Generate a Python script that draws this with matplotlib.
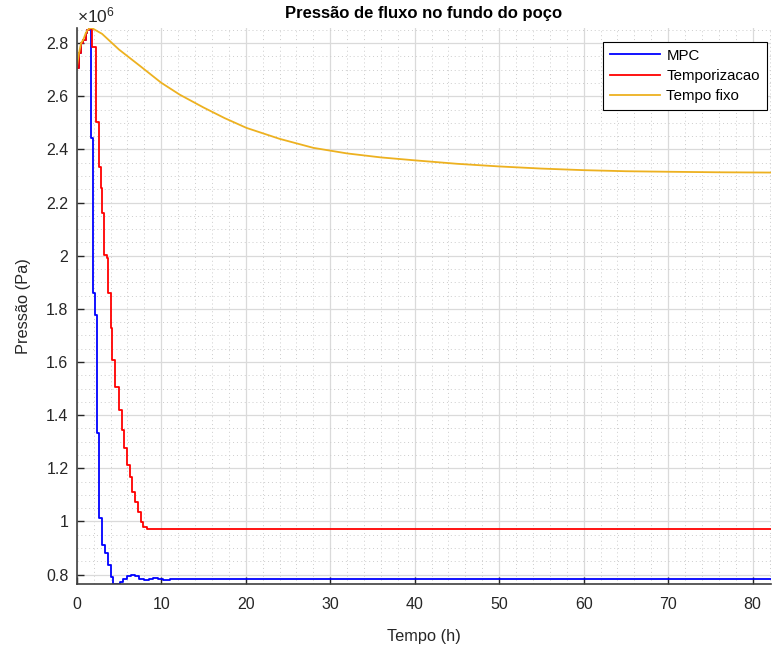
import numpy as np
import matplotlib.pyplot as plt
from matplotlib.ticker import MultipleLocator, FuncFormatter

plt.rcParams['font.family'] = ['Liberation Sans', 'DejaVu Sans']
plt.rcParams['mathtext.default'] = 'regular'

# Data (pressure in units of 1e6 Pa, time in h)
# shared start-up phase, identical for all three strategies
t_start = [0.0, 0.27, 0.51, 0.78, 1.07, 1.25, 1.49]
p_start = [2.706, 2.763, 2.800, 2.813, 2.838, 2.848, 2.855]

# MPC
t_mpc = [1.66, 1.96, 2.17, 2.37, 2.67, 3.03, 3.35, 3.67, 4.02, 4.33,
         5.13, 5.5, 5.9, 6.4, 6.9, 7.4, 8.0, 8.5, 9.0, 9.6, 10.2, 11.0, 82.3]
p_mpc = [2.442, 1.859, 1.777, 1.332, 1.012, 0.911, 0.880, 0.836, 0.792, 0.766,
         0.772, 0.785, 0.796, 0.800, 0.794, 0.784, 0.779, 0.783, 0.787, 0.784, 0.780, 0.782, 0.782]

# Temporizacao
t_temp = [1.62, 1.78, 2.32, 2.67, 2.84, 3.03, 3.27, 3.55, 3.67, 4.02, 4.21, 4.53,
          5.0, 5.40, 5.63, 5.92, 6.31, 6.51, 6.90, 7.22, 7.57, 7.88, 8.28, 82.3]
p_temp = [2.857, 2.787, 2.503, 2.335, 2.254, 2.160, 2.003, 1.991, 1.859, 1.727, 1.608, 1.507,
          1.419, 1.344, 1.275, 1.212, 1.168, 1.112, 1.074, 1.036, 0.999, 0.980, 0.972, 0.972]

# Tempo fixo
t_fixo = [1.78, 3.0, 5.0, 7.5, 10.0, 12.2, 15.0, 17.5, 20.1, 24.0, 28.0, 32.0, 36.0,
          40.0, 45.0, 50.0, 55.0, 60.0, 65.0, 70.0, 76.0, 82.3]
p_fixo = [2.857, 2.835, 2.776, 2.714, 2.651, 2.606, 2.558, 2.518, 2.481, 2.440, 2.406, 2.385, 2.370,
          2.359, 2.346, 2.336, 2.328, 2.322, 2.318, 2.316, 2.314, 2.313]

fig = plt.figure(figsize=(7.72, 6.47), dpi=100)
ax = fig.add_axes([0.0994, 0.098, 0.8996, 0.8587])

ax.plot(np.array(t_start + t_mpc), np.array(p_start + p_mpc) * 1e6,
        color='#0000FF', lw=1.3, drawstyle='steps-post', label='MPC')
ax.plot(np.array(t_start + t_temp), np.array(p_start + p_temp) * 1e6,
        color='#FF0000', lw=1.3, drawstyle='steps-post', label='Temporizacao')
ax.plot(np.array(t_start + t_fixo), np.array(p_start + p_fixo) * 1e6,
        color='#EDB120', lw=1.3, label='Tempo fixo')

ax.set_xlim(0, 82.2)
ax.set_ylim(0.766e6, 2.857e6)

ax.xaxis.set_major_locator(MultipleLocator(10))
ax.xaxis.set_minor_locator(MultipleLocator(2))
ax.yaxis.set_major_locator(MultipleLocator(0.2e6))
ax.yaxis.set_minor_locator(MultipleLocator(0.05e6))
ax.yaxis.set_major_formatter(FuncFormatter(lambda v, p: '%g' % round(v / 1e6, 2)))

ax.grid(which='major', color='#dadada', lw=0.9, ls='-')
ax.grid(which='minor', color='#cccccc', lw=0.7, ls=(0, (1, 3)))
ax.set_axisbelow(True)

for s in ['top', 'right']:
    ax.spines[s].set_visible(False)
for s in ['left', 'bottom']:
    ax.spines[s].set_color('#404040')
    ax.spines[s].set_linewidth(1.2)

ax.tick_params(which='major', direction='in', length=5, width=1, color='#262626',
               labelsize=11.5, labelcolor='#262626')
ax.tick_params(axis='x', pad=10)
ax.tick_params(axis='y', pad=6)
ax.tick_params(which='minor', length=0)

ax.text(0.0, 1.004, '×10$^{6}$', transform=ax.transAxes, ha='left', va='bottom',
        fontsize=12.5, color='#262626')

ax.set_title('Pressão de fluxo no fundo do poço', fontsize=12, fontweight='bold', pad=7)
ax.set_xlabel('Tempo (h)', fontsize=11.8, color='#262626', labelpad=12)
ax.set_ylabel('Pressão (Pa)', fontsize=11.8, color='#262626', labelpad=11)

leg = ax.legend(loc='upper right', bbox_to_anchor=(0.9935, 0.975), borderaxespad=0,
                fontsize=10.8, fancybox=False, edgecolor='black', framealpha=1,
                handlelength=3.3, handletextpad=0.45, labelspacing=0.42,
                borderpad=0.45)
leg.get_frame().set_linewidth(0.8)

plt.savefig('out.png', dpi=100)
